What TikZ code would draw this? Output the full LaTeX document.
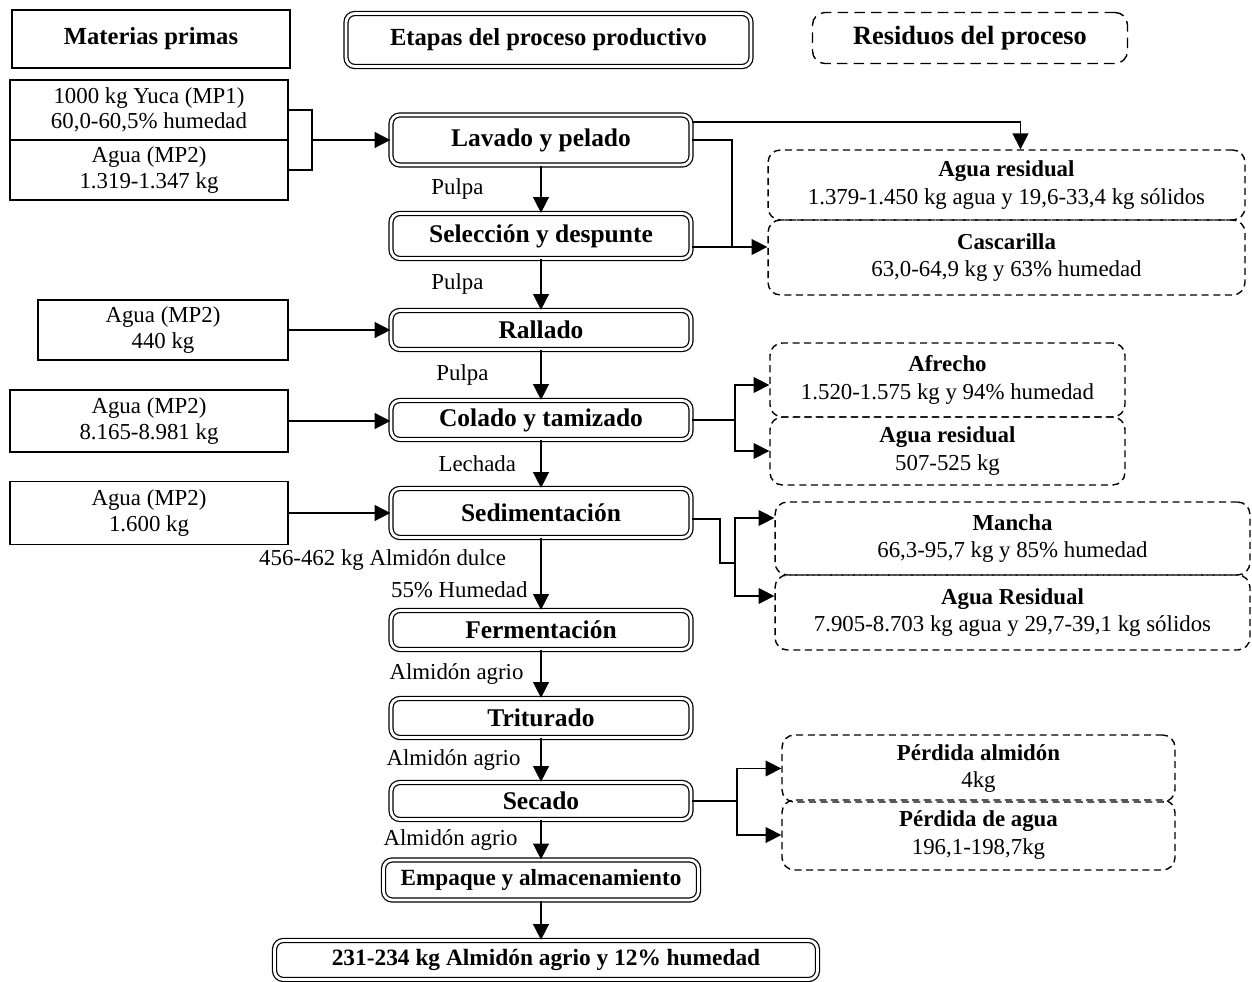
\documentclass[tikz,border=0pt]{standalone}
\usepackage{fontspec}
\setmainfont{Liberation Serif}
\usetikzlibrary{arrows.meta}
\newcommand{\drawstage}[1][]{\node[draw,double,double distance=1.6pt,line width=0.7pt,rounded corners=5pt,font=\fontsize{14.5}{17}\selectfont\bfseries,#1]}
\newcommand{\drawwaste}[1][]{\node[draw,dash pattern=on 4pt off 2.6pt,line width=0.8pt,rounded corners=7pt,align=center,font=\fontsize{13}{15.5}\selectfont,#1]}
\newcommand{\drawinput}[1][]{\node[draw,line width=0.8pt,align=center,font=\fontsize{13}{14.5}\selectfont,#1]}

\begin{document}
\begin{tikzpicture}[x=0.02cm,y=-0.02cm,line width=0.9pt,>={Triangle[length=9pt,width=9pt]},
  lbl/.style={inner sep=1pt,font=\fontsize{13}{15}\selectfont}]
\useasboundingbox (0,0) rectangle (1252,982);
%column headers
\node[draw,line width=1.3pt,minimum width=5.56cm,minimum height=1.16cm,font=\fontsize{14}{16}\selectfont\bfseries] (hdMat) at (151,39) {Materias primas};
\drawstage[minimum width=8.1cm,minimum height=1.06cm,font=\fontsize{14}{16}\selectfont\bfseries] (hdEtapas) at (548.5,40) {Etapas del proceso productivo};
\drawwaste[minimum width=6.3cm,minimum height=1.02cm,dash pattern=on 6pt off 3.5pt,font=\fontsize{15}{17}\selectfont\bfseries] (hdRes) at (970,38) {Residuos del proceso};

%raw materials
\drawinput[minimum width=5.56cm,minimum height=1.2cm] (mpYuca) at (149,110) {1000 kg Yuca (MP1)\\60,0-60,5\% humedad};
\drawinput[minimum width=5.56cm,minimum height=1.2cm] (mpAgua1) at (149,170) {Agua (MP2)\\1.319-1.347 kg};
\drawinput[minimum width=5.0cm,minimum height=1.2cm] (mpAgua2) at (163,330) {Agua (MP2)\\440 kg};
\drawinput[minimum width=5.56cm,minimum height=1.24cm] (mpAgua3) at (149,421) {Agua (MP2)\\8.165-8.981 kg};
\drawinput[minimum width=5.56cm,minimum height=1.26cm] (mpAgua4) at (149,513) {Agua (MP2)\\1.600 kg};

%process stages
\drawstage[minimum width=6.0cm,minimum height=1.0cm] (stLavado) at (541,140) {Lavado y pelado};
\drawstage[minimum width=6.0cm,minimum height=0.9cm] (stSelec) at (541,236) {Selección y despunte};
\drawstage[minimum width=6.0cm,minimum height=0.78cm] (stRallado) at (541,330) {Rallado};
\drawstage[minimum width=6.0cm,minimum height=0.78cm] (stColado) at (541,420) {Colado y tamizado};
\drawstage[minimum width=6.0cm,minimum height=0.98cm] (stSedim) at (541,513) {Sedimentación};
\drawstage[minimum width=6.0cm,minimum height=0.78cm] (stFerm) at (541,630) {Fermentación};
\drawstage[minimum width=6.0cm,minimum height=0.78cm] (stTrit) at (541,718) {Triturado};
\drawstage[minimum width=6.0cm,minimum height=0.74cm] (stSecado) at (541,801) {Secado};
\drawstage[minimum width=6.3cm,minimum height=0.8cm,font=\fontsize{13.2}{15}\selectfont\bfseries] (stEmpaque) at (541,880) {Empaque y almacenamiento};
\drawstage[minimum width=10.86cm,minimum height=0.78cm,inner sep=1pt,font=\fontsize{13.3}{15}\selectfont\bfseries] (stFinal) at (546,960) {231-234 kg Almidón agrio y 12\% humedad};

%wastes
\drawwaste[minimum width=9.54cm,minimum height=1.4cm] (resAgua1) at (1006.5,185) {\textbf{Agua residual}\\1.379-1.450 kg agua y 19,6-33,4 kg sólidos};
\drawwaste[minimum width=9.54cm,minimum height=1.5cm] (resCasc) at (1006.5,257.5) {\textbf{Cascarilla}\\63,0-64,9 kg y 63\% humedad};
\drawwaste[minimum width=7.1cm,minimum height=1.48cm] (resAfrecho) at (947.5,380) {\textbf{Afrecho}\\1.520-1.575 kg y 94\% humedad};
\drawwaste[minimum width=7.1cm,minimum height=1.36cm] (resAgua2) at (947.5,451) {\textbf{Agua residual}\\507-525 kg};
\drawwaste[minimum width=9.5cm,minimum height=1.46cm] (resMancha) at (1012.5,538.5) {\textbf{Mancha}\\66,3-95,7 kg y 85\% humedad};
\drawwaste[minimum width=9.5cm,minimum height=1.5cm] (resAgua3) at (1012.5,612.5) {\textbf{Agua Residual}\\7.905-8.703 kg agua y 29,7-39,1 kg sólidos};
\drawwaste[minimum width=7.86cm,minimum height=1.34cm] (resPerdAlm) at (978.5,768.5) {\textbf{Pérdida almidón}\\4kg};
\drawwaste[minimum width=7.86cm,minimum height=1.4cm] (resPerdAgua) at (978.5,835) {\textbf{Pérdida de agua}\\196,1-198,7kg};

%inputs into stages
\coordinate (brk) at (312,140);
\draw (mpYuca.east) -| (brk) |- (mpAgua1.east);
\draw[->] (brk) to (brk -| stLavado.west);
\draw[->] (mpAgua2.east) to (mpAgua2.east -| stRallado.west);
\draw[->] (mpAgua3.east) to (mpAgua3.east -| stColado.west);
\draw[->] (mpAgua4.east) to (mpAgua4.east -| stSedim.west);

%main line
\draw[->] (stLavado) to node[lbl, left=1.1cm] {Pulpa} (stSelec);
\draw[->] (stSelec) to node[lbl, left=1.1cm] {Pulpa} (stRallado);
\draw[->] (stRallado) to node[lbl, left=1.0cm] {Pulpa} (stColado);
\draw[->] (stColado) to node[lbl, left=0.45cm] {Lechada} (stSedim);
\draw[->] (stSedim) to node[lbl, pos=0.3, left=0.65cm] {456-462 kg Almidón dulce} node[lbl, pos=0.72, left=0.22cm] {55\% Humedad} (stFerm);
\draw[->] (stFerm) to node[lbl, left=0.3cm] {Almidón agrio} (stTrit);
\draw[->] (stTrit) to node[lbl, left=0.36cm] {Almidón agrio} (stSecado);
\draw[->] (stSecado) to node[lbl, left=0.42cm] {Almidón agrio} (stEmpaque);
\draw[->] (stEmpaque) to (stEmpaque.south |- stFinal.north);

%wastes out of stages
\draw[->] ([yshift=0.36cm]stLavado.east) -| ([xshift=0.28cm]resAgua1.north);
\coordinate (cjL) at (732,247);
\draw (stLavado.east) -| (cjL);
\draw[->] (stSelec.east |- cjL) to (resCasc.west |- cjL);

\coordinate (cjC) at (735,420);
\draw (stColado.east) to (cjC);
\draw[->] (cjC) |- ([yshift=-0.1cm]resAfrecho.west);
\draw[->] (cjC) |- (resAgua2.west);

\coordinate (cjS1) at (720,563);
\coordinate (cjS) at (735,563);
\draw ([yshift=-0.12cm]stSedim.east) -| (cjS1) to (cjS);
\draw[->] (cjS) |- ([yshift=0.41cm]resMancha.west);
\draw[->] (cjS) |- ([yshift=0.33cm]resAgua3.west);

\coordinate (cjD) at (737,801);
\draw (stSecado.east) to (cjD);
\draw[->] (cjD) |- (resPerdAlm.west);
\draw[->] (cjD) |- (resPerdAgua.west);
\end{tikzpicture}
\end{document}
